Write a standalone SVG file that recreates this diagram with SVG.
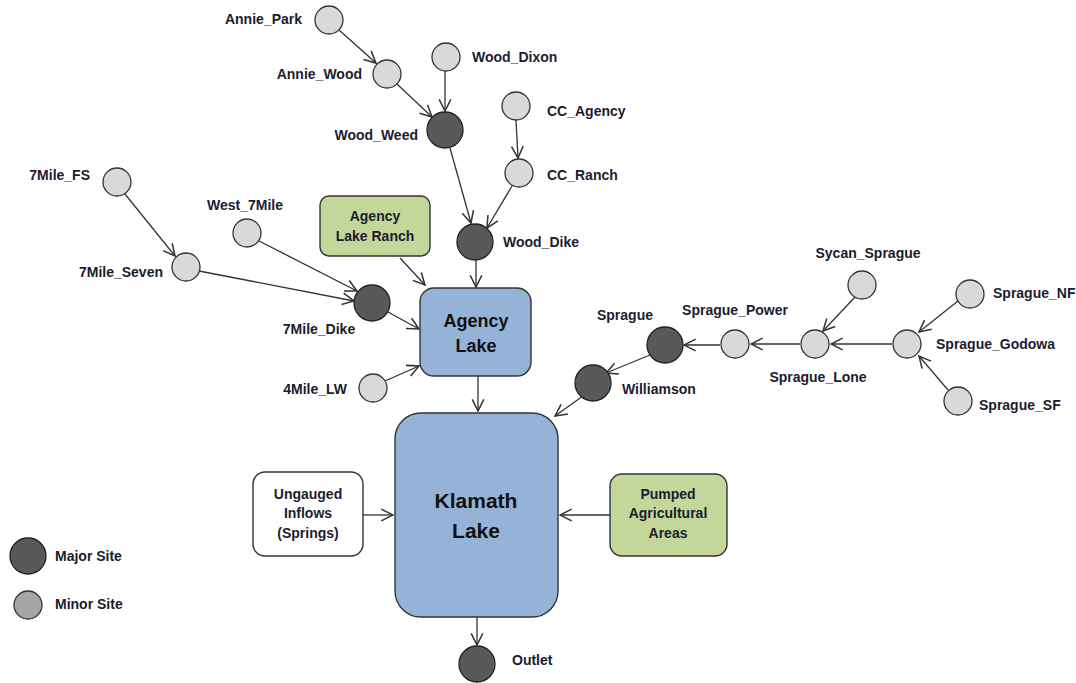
<svg xmlns="http://www.w3.org/2000/svg" width="1076" height="683" viewBox="0 0 1076 683">
<defs>
<marker id="arr" markerUnits="userSpaceOnUse" markerWidth="14" markerHeight="14" viewBox="0 0 12 12" refX="11" refY="6" orient="auto">
<path d="M1,1 L11,6 L1,11" fill="none" stroke="#333" stroke-width="1.3"/>
</marker>
<style>
.minor{fill:#d9d9d9;stroke:#333;stroke-width:1.3}
.major{fill:#595959;stroke:#222;stroke-width:1.3}
.lbl{font-family:"Liberation Sans",Arial,sans-serif;font-weight:bold;font-size:14px;fill:#1c1c30}
.box{stroke:#333;stroke-width:1.4}
.c{stroke:#333;stroke-width:1.3;fill:none;marker-end:url(#arr)}
</style>
</defs>
<rect width="1076" height="683" fill="#fff"/>
<g id="connectors">
<line class="c" x1="339" y1="30" x2="376" y2="63"/>
<line class="c" x1="397" y1="84" x2="432" y2="117"/>
<line class="c" x1="445" y1="71" x2="445" y2="111"/>
<line class="c" x1="516" y1="120" x2="518" y2="158"/>
<line class="c" x1="450" y1="148" x2="471" y2="223"/>
<line class="c" x1="512" y1="186" x2="487" y2="228"/>
<line class="c" x1="476" y1="260" x2="476" y2="287"/>
<line class="c" x1="400" y1="258" x2="425" y2="285"/>
<line class="c" x1="125" y1="194" x2="175" y2="256"/>
<line class="c" x1="259" y1="241" x2="357" y2="291"/>
<line class="c" x1="199" y1="271" x2="354" y2="301"/>
<line class="c" x1="388" y1="312" x2="419" y2="329"/>
<line class="c" x1="385" y1="381" x2="419" y2="366"/>
<line class="c" x1="478" y1="376" x2="478" y2="411"/>
<line class="c" x1="583" y1="396" x2="555" y2="416"/>
<line class="c" x1="650" y1="355" x2="606" y2="373"/>
<line class="c" x1="720" y1="345" x2="684" y2="345"/>
<line class="c" x1="800" y1="344" x2="751" y2="344"/>
<line class="c" x1="855" y1="297" x2="823" y2="331"/>
<line class="c" x1="892" y1="344" x2="831" y2="344"/>
<line class="c" x1="958" y1="301" x2="919" y2="332"/>
<line class="c" x1="948" y1="390" x2="919" y2="356"/>
<line class="c" x1="363" y1="515" x2="393" y2="515"/>
<line class="c" x1="610" y1="515" x2="560" y2="515"/>
<line class="c" x1="477" y1="617" x2="477" y2="645"/>
</g>
<g id="agency_lake"><rect class="box" x="420" y="288" width="111" height="88" rx="14" fill="#95b3d7"/>
<text font-family="Liberation Sans,Arial,sans-serif" font-weight="bold" font-size="18" fill="#111" text-anchor="middle"><tspan x="476" y="327">Agency</tspan><tspan x="476" y="352">Lake</tspan></text></g>
<g id="klamath_lake"><rect class="box" x="395" y="413" width="163" height="204" rx="26" fill="#95b3d7"/>
<text font-family="Liberation Sans,Arial,sans-serif" font-weight="bold" font-size="21" fill="#111" text-anchor="middle"><tspan x="476" y="508">Klamath</tspan><tspan x="476" y="538">Lake</tspan></text></g>
<g id="agency_lake_ranch"><rect class="box" x="320" y="196" width="110" height="60" rx="9" fill="#c4d79b"/>
<text class="lbl" text-anchor="middle"><tspan x="375" y="221">Agency</tspan><tspan x="375" y="241">Lake Ranch</tspan></text></g>
<g id="ungauged"><rect class="box" x="253" y="472" width="110" height="84" rx="12" fill="#fff"/>
<text class="lbl" text-anchor="middle"><tspan x="308" y="499">Ungauged</tspan><tspan x="308" y="518">Inflows</tspan><tspan x="308" y="538">(Springs)</tspan></text></g>
<g id="pumped"><rect class="box" x="610" y="474" width="117" height="82" rx="12" fill="#c4d79b"/>
<text class="lbl" text-anchor="middle"><tspan x="668" y="499">Pumped</tspan><tspan x="668" y="518">Agricultural</tspan><tspan x="668" y="538">Areas</tspan></text></g>
<g id="annie_park"><circle class="minor" cx="329" cy="20" r="14"/><text class="lbl" x="302" y="24" text-anchor="end">Annie_Park</text></g>
<g id="annie_wood"><circle class="minor" cx="387" cy="74" r="14"/><text class="lbl" x="362" y="79" text-anchor="end">Annie_Wood</text></g>
<g id="wood_dixon"><circle class="minor" cx="446" cy="57" r="14"/><text class="lbl" x="472" y="62">Wood_Dixon</text></g>
<g id="wood_weed"><circle class="major" cx="445" cy="130" r="18"/><text class="lbl" x="418" y="140" text-anchor="end">Wood_Weed</text></g>
<g id="cc_agency"><circle class="minor" cx="516" cy="106" r="14"/><text class="lbl" x="547" y="116">CC_Agency</text></g>
<g id="cc_ranch"><circle class="minor" cx="519" cy="173" r="14"/><text class="lbl" x="547" y="180">CC_Ranch</text></g>
<g id="wood_dike"><circle class="major" cx="475" cy="242" r="18"/><text class="lbl" x="503" y="247">Wood_Dike</text></g>
<g id="7mile_fs"><circle class="minor" cx="117" cy="182" r="14"/><text class="lbl" x="90" y="180" text-anchor="end">7Mile_FS</text></g>
<g id="west_7mile"><circle class="minor" cx="247" cy="233" r="14"/><text class="lbl" x="245" y="210" text-anchor="middle">West_7Mile</text></g>
<g id="7mile_seven"><circle class="minor" cx="186" cy="267" r="14"/><text class="lbl" x="163" y="277" text-anchor="end">7Mile_Seven</text></g>
<g id="7mile_dike"><circle class="major" cx="372" cy="303" r="18"/><text class="lbl" x="319" y="334" text-anchor="middle">7Mile_Dike</text></g>
<g id="4mile_lw"><circle class="minor" cx="373" cy="388" r="14"/><text class="lbl" x="347" y="394" text-anchor="end">4Mile_LW</text></g>
<g id="sprague"><circle class="major" cx="665" cy="345" r="18"/><text class="lbl" x="625" y="320" text-anchor="middle">Sprague</text></g>
<g id="williamson"><circle class="major" cx="593" cy="383" r="18"/><text class="lbl" x="622" y="394">Williamson</text></g>
<g id="sprague_power"><circle class="minor" cx="735" cy="344" r="14"/><text class="lbl" x="735" y="315" text-anchor="middle">Sprague_Power</text></g>
<g id="sprague_lone"><circle class="minor" cx="815" cy="344" r="14"/><text class="lbl" x="818" y="382" text-anchor="middle">Sprague_Lone</text></g>
<g id="sycan_sprague"><circle class="minor" cx="862" cy="285" r="14"/><text class="lbl" x="868" y="258" text-anchor="middle">Sycan_Sprague</text></g>
<g id="sprague_godowa"><circle class="minor" cx="907" cy="344" r="14"/><text class="lbl" x="936" y="349">Sprague_Godowa</text></g>
<g id="sprague_nf"><circle class="minor" cx="970" cy="294" r="14"/><text class="lbl" x="993" y="298">Sprague_NF</text></g>
<g id="sprague_sf"><circle class="minor" cx="958" cy="401" r="14"/><text class="lbl" x="979" y="410">Sprague_SF</text></g>
<g id="outlet"><circle class="major" cx="477" cy="664" r="18"/><text class="lbl" x="512" y="665">Outlet</text></g>
<g id="legend">
<circle class="major" cx="28" cy="556" r="18"/><text class="lbl" x="55" y="561">Major Site</text>
<circle cx="28" cy="605" r="14" fill="#a6a6a6" stroke="#333" stroke-width="1.3"/><text class="lbl" x="55" y="609">Minor Site</text>
</g>
</svg>
